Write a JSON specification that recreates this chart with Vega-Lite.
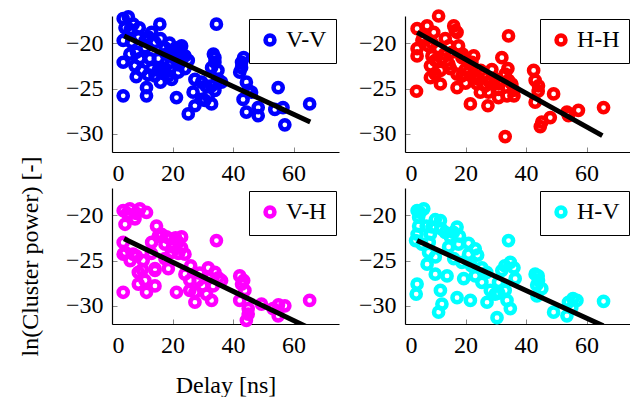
{
"$schema": "https://vega.github.io/schema/vega-lite/v6.json",
"padding": {"left": 18, "top": 2, "right": 0, "bottom": 0},
"background": "white",
"config": {
 "font": "Liberation Serif",
 "view": {"stroke": null},
 "axis": {"domainColor": "black", "domainWidth": 1.2, "tickColor": "#8a8a8a", "tickWidth": 1, "tickSize": -5, "labelFont": "Liberation Serif", "labelFontSize": 24, "labelColor": "black", "titleFont": "Liberation Serif", "titleFontSize": 24, "titleFontWeight": "normal", "titleColor": "black", "grid": false},
 "legend": {"orient": "top-right", "offset": 3, "fillColor": "white", "strokeColor": "black", "padding": 9, "labelFont": "Liberation Serif", "labelFontSize": 24, "labelColor": "black", "symbolStrokeWidth": 4.5, "symbolSize": 80, "symbolType": "circle", "labelOffset": 4}
},
"datasets": {
 "pts": [
  {"g":"V-V","x":3.7,"y":-17.3},{"g":"V-V","x":5.4,"y":-17.1},{"g":"V-V","x":7.0,"y":-17.9},{"g":"V-V","x":4.3,"y":-18.3},{"g":"V-V","x":15.8,"y":-17.9},{"g":"V-V","x":34.5,"y":-17.9},{"g":"V-V","x":3.7,"y":-19.7},{"g":"V-V","x":3.7,"y":-22.1},{"g":"V-V","x":3.7,"y":-25.8},{"g":"V-V","x":11.4,"y":-24.9},{"g":"V-V","x":11.4,"y":-25.8},{"g":"V-V","x":8.7,"y":-19.4},{"g":"V-V","x":13.1,"y":-18.8},{"g":"V-V","x":14.2,"y":-19.9},{"g":"V-V","x":17.5,"y":-20.5},{"g":"V-V","x":20.8,"y":-20.6},{"g":"V-V","x":22.4,"y":-21.0},{"g":"V-V","x":23.0,"y":-21.6},{"g":"V-V","x":19.7,"y":-22.1},{"g":"V-V","x":16.4,"y":-22.7},{"g":"V-V","x":13.1,"y":-22.8},{"g":"V-V","x":9.8,"y":-23.0},{"g":"V-V","x":7.6,"y":-22.5},{"g":"V-V","x":5.9,"y":-21.2},{"g":"V-V","x":8.1,"y":-21.0},{"g":"V-V","x":10.9,"y":-20.5},{"g":"V-V","x":15.3,"y":-21.7},{"g":"V-V","x":18.6,"y":-23.6},{"g":"V-V","x":24.1,"y":-22.8},{"g":"V-V","x":21.9,"y":-23.2},{"g":"V-V","x":19.7,"y":-24.0},{"g":"V-V","x":14.2,"y":-23.6},{"g":"V-V","x":27.4,"y":-24.0},{"g":"V-V","x":34.0,"y":-21.6},{"g":"V-V","x":34.0,"y":-22.1},{"g":"V-V","x":32.9,"y":-22.7},{"g":"V-V","x":35.1,"y":-24.0},{"g":"V-V","x":32.9,"y":-24.7},{"g":"V-V","x":34.0,"y":-25.2},{"g":"V-V","x":31.8,"y":-25.8},{"g":"V-V","x":30.7,"y":-26.3},{"g":"V-V","x":32.9,"y":-26.7},{"g":"V-V","x":26.8,"y":-25.4},{"g":"V-V","x":27.4,"y":-26.9},{"g":"V-V","x":25.2,"y":-27.8},{"g":"V-V","x":21.3,"y":-26.0},{"g":"V-V","x":42.8,"y":-22.1},{"g":"V-V","x":42.8,"y":-22.7},{"g":"V-V","x":42.2,"y":-23.2},{"g":"V-V","x":44.4,"y":-24.3},{"g":"V-V","x":46.1,"y":-25.4},{"g":"V-V","x":43.3,"y":-26.2},{"g":"V-V","x":44.4,"y":-27.6},{"g":"V-V","x":48.3,"y":-27.1},{"g":"V-V","x":48.3,"y":-28.0},{"g":"V-V","x":54.9,"y":-24.9},{"g":"V-V","x":53.8,"y":-27.3},{"g":"V-V","x":56.5,"y":-27.1},{"g":"V-V","x":57.1,"y":-29.0},{"g":"V-V","x":65.3,"y":-26.7},{"g":"V-V","x":6.5,"y":-19.9},{"g":"V-V","x":9.2,"y":-21.7},{"g":"V-V","x":12.5,"y":-21.7},{"g":"V-V","x":18.0,"y":-21.2},{"g":"V-V","x":21.3,"y":-21.9},{"g":"V-V","x":17.5,"y":-23.0},{"g":"V-V","x":25.2,"y":-21.9},{"g":"V-V","x":29.6,"y":-24.3},{"g":"V-V","x":29.6,"y":-26.2},{"g":"V-V","x":36.2,"y":-24.3},{"g":"V-V","x":45.0,"y":-25.2},{"g":"V-V","x":21.9,"y":-20.5},{"g":"V-V","x":15.3,"y":-23.0},{"g":"V-V","x":10.9,"y":-19.7},{"g":"V-V","x":24.1,"y":-21.4},
  {"g":"V-V","x":6,"y":-18.5},{"g":"V-V","x":9,"y":-18.3},{"g":"V-V","x":12,"y":-19.3},{"g":"V-V","x":16,"y":-19.5},{"g":"V-V","x":19,"y":-20},{"g":"V-V","x":20,"y":-21.5},{"g":"V-V","x":23,"y":-20.3},{"g":"V-V","x":22,"y":-22.4},{"g":"V-V","x":12,"y":-23.5},{"g":"V-V","x":8,"y":-23.7},{"g":"V-V","x":16,"y":-24.3},{"g":"V-V","x":33.5,"y":-21.2},{"g":"V-V","x":35,"y":-23},{"g":"V-V","x":43.5,"y":-21.6},{"g":"V-V","x":31,"y":-24.7},
  {"g":"H-H","x":11.1,"y":-17.0},{"g":"H-H","x":4.0,"y":-18.4},{"g":"H-H","x":7.3,"y":-18.1},{"g":"H-H","x":9.5,"y":-18.8},{"g":"H-H","x":16.1,"y":-18.1},{"g":"H-H","x":17.2,"y":-18.8},{"g":"H-H","x":34.2,"y":-19.2},{"g":"H-H","x":4.0,"y":-20.6},{"g":"H-H","x":4.0,"y":-21.4},{"g":"H-H","x":3.8,"y":-25.3},{"g":"H-H","x":7.8,"y":-20.3},{"g":"H-H","x":11.1,"y":-20.6},{"g":"H-H","x":14.5,"y":-20.3},{"g":"H-H","x":17.7,"y":-20.3},{"g":"H-H","x":8.9,"y":-21.4},{"g":"H-H","x":12.2,"y":-21.7},{"g":"H-H","x":8.4,"y":-22.5},{"g":"H-H","x":11.7,"y":-23.0},{"g":"H-H","x":11.7,"y":-24.5},{"g":"H-H","x":17.2,"y":-23.4},{"g":"H-H","x":17.2,"y":-24.9},{"g":"H-H","x":22.7,"y":-21.4},{"g":"H-H","x":22.1,"y":-22.1},{"g":"H-H","x":19.9,"y":-22.9},{"g":"H-H","x":24.3,"y":-24.0},{"g":"H-H","x":23.8,"y":-24.5},{"g":"H-H","x":26.5,"y":-24.7},{"g":"H-H","x":27.6,"y":-25.4},{"g":"H-H","x":21.6,"y":-26.7},{"g":"H-H","x":27.4,"y":-26.9},{"g":"H-H","x":32.0,"y":-21.6},{"g":"H-H","x":28.7,"y":-22.9},{"g":"H-H","x":33.1,"y":-23.4},{"g":"H-H","x":34.2,"y":-24.1},{"g":"H-H","x":30.9,"y":-25.1},{"g":"H-H","x":33.7,"y":-25.8},{"g":"H-H","x":35.9,"y":-25.2},{"g":"H-H","x":33.1,"y":-30.3},{"g":"H-H","x":42.5,"y":-23.0},{"g":"H-H","x":43.0,"y":-24.1},{"g":"H-H","x":44.1,"y":-24.7},{"g":"H-H","x":43.0,"y":-26.5},{"g":"H-H","x":49.1,"y":-25.6},{"g":"H-H","x":48.0,"y":-28.2},{"g":"H-H","x":44.7,"y":-29.2},{"g":"H-H","x":45.2,"y":-28.7},{"g":"H-H","x":53.5,"y":-27.6},{"g":"H-H","x":54.0,"y":-28.0},{"g":"H-H","x":57.3,"y":-27.4},{"g":"H-H","x":65.6,"y":-27.1},{"g":"H-H","x":13.3,"y":-19.5},{"g":"H-H","x":15.5,"y":-21.0},{"g":"H-H","x":5.6,"y":-19.7},{"g":"H-H","x":10.0,"y":-21.9},{"g":"H-H","x":18.8,"y":-21.6},{"g":"H-H","x":23.2,"y":-23.6},{"g":"H-H","x":26.0,"y":-23.4},{"g":"H-H","x":29.8,"y":-23.9},{"g":"H-H","x":35.3,"y":-24.5},{"g":"H-H","x":30.9,"y":-26.0},{"g":"H-H","x":14.5,"y":-22.3},{"g":"H-H","x":24.9,"y":-25.4},{"g":"H-H","x":8.4,"y":-23.8},{"g":"H-H","x":18.8,"y":-23.6},{"g":"H-H","x":16.6,"y":-18.6},
  {"g":"H-H","x":6,"y":-19.3},{"g":"H-H","x":9,"y":-20},{"g":"H-H","x":13,"y":-21.2},{"g":"H-H","x":15,"y":-22.8},{"g":"H-H","x":19,"y":-21.2},{"g":"H-H","x":21,"y":-23.2},{"g":"H-H","x":25,"y":-23},{"g":"H-H","x":28,"y":-24.3},{"g":"H-H","x":31,"y":-24.5},{"g":"H-H","x":34,"y":-22.8},{"g":"H-H","x":36,"y":-25.8},{"g":"H-H","x":44,"y":-25.3},{"g":"H-H","x":10,"y":-23.4},{"g":"H-H","x":20,"y":-24.4},
  {"g":"V-H","x":3.7,"y":-19.5},{"g":"V-H","x":5.9,"y":-19.3},{"g":"V-H","x":9.2,"y":-19.3},{"g":"V-H","x":11.4,"y":-19.7},{"g":"V-H","x":4.3,"y":-21.0},{"g":"V-H","x":7.6,"y":-20.4},{"g":"V-H","x":14.7,"y":-21.2},{"g":"V-H","x":3.7,"y":-23.0},{"g":"V-H","x":3.7,"y":-24.3},{"g":"V-H","x":3.7,"y":-28.5},{"g":"V-H","x":8.7,"y":-26.3},{"g":"V-H","x":8.7,"y":-27.6},{"g":"V-H","x":11.4,"y":-28.5},{"g":"V-H","x":14.2,"y":-27.8},{"g":"V-H","x":14.2,"y":-25.9},{"g":"V-H","x":10.9,"y":-27.2},{"g":"V-H","x":34.5,"y":-22.8},{"g":"V-H","x":13.1,"y":-23.0},{"g":"V-H","x":16.4,"y":-22.1},{"g":"V-H","x":19.1,"y":-22.6},{"g":"V-H","x":21.9,"y":-23.0},{"g":"V-H","x":23.0,"y":-23.6},{"g":"V-H","x":19.7,"y":-24.1},{"g":"V-H","x":17.5,"y":-24.8},{"g":"V-H","x":18.6,"y":-25.9},{"g":"V-H","x":21.3,"y":-28.5},{"g":"V-H","x":24.1,"y":-26.5},{"g":"V-H","x":25.7,"y":-28.3},{"g":"V-H","x":27.4,"y":-29.6},{"g":"V-H","x":28.5,"y":-27.2},{"g":"V-H","x":31.8,"y":-25.8},{"g":"V-H","x":35.1,"y":-26.9},{"g":"V-H","x":33.4,"y":-27.8},{"g":"V-H","x":32.9,"y":-29.4},{"g":"V-H","x":31.2,"y":-28.7},{"g":"V-H","x":42.2,"y":-26.7},{"g":"V-H","x":43.9,"y":-28.3},{"g":"V-H","x":42.2,"y":-29.4},{"g":"V-H","x":45.0,"y":-30.9},{"g":"V-H","x":44.4,"y":-31.6},{"g":"V-H","x":49.4,"y":-29.8},{"g":"V-H","x":53.2,"y":-30.3},{"g":"V-H","x":57.1,"y":-30.0},{"g":"V-H","x":54.9,"y":-31.1},{"g":"V-H","x":65.3,"y":-29.4},{"g":"V-H","x":4.3,"y":-24.1},{"g":"V-H","x":7.0,"y":-24.3},{"g":"V-H","x":10.3,"y":-25.0},{"g":"V-H","x":14.2,"y":-26.1},{"g":"V-H","x":24.1,"y":-24.3},{"g":"V-H","x":25.7,"y":-27.2},{"g":"V-H","x":36.2,"y":-27.2},{"g":"V-H","x":42.8,"y":-27.6},{"g":"V-H","x":23.0,"y":-22.4},{"g":"V-H","x":17.5,"y":-23.2},{"g":"V-H","x":8.1,"y":-24.5},{"g":"V-H","x":15.3,"y":-22.3},{"g":"V-H","x":27.4,"y":-28.5},{"g":"V-H","x":32.3,"y":-26.9},
  {"g":"V-H","x":5,"y":-19.8},{"g":"V-H","x":8,"y":-19.8},{"g":"V-H","x":18,"y":-22.4},{"g":"V-H","x":21,"y":-22.5},{"g":"V-H","x":22,"y":-24.2},{"g":"V-H","x":20,"y":-23.5},{"g":"V-H","x":13,"y":-24.2},{"g":"V-H","x":6,"y":-25},{"g":"V-H","x":26,"y":-25.6},{"g":"V-H","x":29,"y":-26.4},{"g":"V-H","x":34,"y":-26.3},{"g":"V-H","x":43.5,"y":-27.2},{"g":"V-H","x":10,"y":-26},{"g":"V-H","x":30,"y":-27.8},{"g":"V-H","x":55,"y":-29.9},{"g":"V-H","x":45,"y":-30.3},
  {"g":"H-V","x":4.0,"y":-19.5},{"g":"H-V","x":6.2,"y":-19.3},{"g":"H-V","x":4.5,"y":-20.2},{"g":"H-V","x":11.7,"y":-20.6},{"g":"H-V","x":8.9,"y":-21.3},{"g":"H-V","x":4.0,"y":-22.1},{"g":"H-V","x":3.5,"y":-22.8},{"g":"H-V","x":17.2,"y":-21.3},{"g":"H-V","x":15.0,"y":-22.4},{"g":"H-V","x":14.4,"y":-23.5},{"g":"H-V","x":23.2,"y":-23.7},{"g":"H-V","x":21.0,"y":-24.3},{"g":"H-V","x":16.1,"y":-24.8},{"g":"H-V","x":7.3,"y":-25.4},{"g":"H-V","x":10.0,"y":-26.5},{"g":"H-V","x":13.9,"y":-26.7},{"g":"H-V","x":4.0,"y":-27.6},{"g":"H-V","x":3.7,"y":-28.7},{"g":"H-V","x":11.7,"y":-28.3},{"g":"H-V","x":12.2,"y":-29.8},{"g":"H-V","x":11.1,"y":-30.7},{"g":"H-V","x":17.2,"y":-29.1},{"g":"H-V","x":21.6,"y":-29.4},{"g":"H-V","x":19.4,"y":-27.0},{"g":"H-V","x":23.2,"y":-26.7},{"g":"H-V","x":25.4,"y":-27.4},{"g":"H-V","x":28.2,"y":-28.3},{"g":"H-V","x":27.1,"y":-29.6},{"g":"H-V","x":30.4,"y":-31.3},{"g":"H-V","x":34.2,"y":-22.8},{"g":"H-V","x":34.8,"y":-25.2},{"g":"H-V","x":32.0,"y":-26.1},{"g":"H-V","x":36.4,"y":-27.0},{"g":"H-V","x":30.9,"y":-27.4},{"g":"H-V","x":33.1,"y":-28.3},{"g":"H-V","x":33.7,"y":-29.4},{"g":"H-V","x":34.8,"y":-30.3},{"g":"H-V","x":43.0,"y":-26.5},{"g":"H-V","x":44.1,"y":-27.2},{"g":"H-V","x":45.2,"y":-28.1},{"g":"H-V","x":43.6,"y":-28.9},{"g":"H-V","x":49.1,"y":-30.7},{"g":"H-V","x":53.5,"y":-31.1},{"g":"H-V","x":54.0,"y":-29.6},{"g":"H-V","x":56.8,"y":-29.4},{"g":"H-V","x":65.6,"y":-29.5},{"g":"H-V","x":7.8,"y":-24.1},{"g":"H-V","x":5.6,"y":-23.2},{"g":"H-V","x":10.0,"y":-24.6},{"g":"H-V","x":17.7,"y":-23.2},{"g":"H-V","x":18.8,"y":-25.2},{"g":"H-V","x":25.4,"y":-25.8},{"g":"H-V","x":29.8,"y":-28.7},{"g":"H-V","x":55.1,"y":-30.2},{"g":"H-V","x":8.4,"y":-22.1},{"g":"H-V","x":4.5,"y":-21.2},{"g":"H-V","x":13.3,"y":-21.9},
  {"g":"H-V","x":5,"y":-19.7},{"g":"H-V","x":7,"y":-21.2},{"g":"H-V","x":10,"y":-20.5},{"g":"H-V","x":12,"y":-21.5},{"g":"H-V","x":16,"y":-21.9},{"g":"H-V","x":18,"y":-22.3},{"g":"H-V","x":21,"y":-23.1},{"g":"H-V","x":24,"y":-24.4},{"g":"H-V","x":22,"y":-25.6},{"g":"H-V","x":27,"y":-26.3},{"g":"H-V","x":33,"y":-25.6},{"g":"H-V","x":36,"y":-25.8},{"g":"H-V","x":43.5,"y":-27.7},{"g":"H-V","x":31,"y":-28.6},{"g":"H-V","x":55.5,"y":-29.2},{"g":"H-V","x":8,"y":-23},{"g":"H-V","x":44,"y":-26.7}
 ],
 "fit": [
  {"g":"V-V","x":4,"y":-19.2},{"g":"V-V","x":65.5,"y":-28.7},
  {"g":"H-H","x":4,"y":-18.8},{"g":"H-H","x":65.2,"y":-30.2},
  {"g":"V-H","x":4,"y":-22.6},{"g":"V-H","x":65.5,"y":-32.5},
  {"g":"H-V","x":4,"y":-22.8},{"g":"H-V","x":65.5,"y":-32.2}
 ]
},
"columns": 2,
"bounds": "flush",
"spacing": {"row": 36, "column": 66},
"resolve": {"scale": {"color": "independent"}, "legend": {"color": "independent"}},
"concat": [
  {"width": 227, "height": 136, "layer": [
   {"data": {"name": "pts"}, "transform": [{"filter": "datum.g === 'V-V'"}], "mark": {"type": "point", "shape": "circle", "filled": false, "strokeWidth": 4.5, "size": 85, "opacity": 1},
    "encoding": {"x": {"field": "x", "type": "quantitative", "scale": {"domain": [0, 75], "nice": false, "zero": false}, "axis": {"title": null, "values": [0, 20, 40, 60], "labelPadding": 14}},
     "y": {"field": "y", "type": "quantitative", "scale": {"domain": [-32, -17], "nice": false, "zero": false}, "axis": {"title": null, "values": [-30, -25, -20], "labelPadding": 14}},
     "color": {"field": "g", "type": "nominal", "scale": {"domain": ["V-V"], "range": ["#0000ff"]}, "legend": {"title": null}}}},
   {"data": {"name": "fit"}, "transform": [{"filter": "datum.g === 'V-V'"}], "mark": {"type": "line", "color": "black", "strokeWidth": 5, "clip": true},
    "encoding": {"x": {"field": "x", "type": "quantitative"}, "y": {"field": "y", "type": "quantitative"}}}
  ]},
  {"width": 227, "height": 136, "layer": [
   {"data": {"name": "pts"}, "transform": [{"filter": "datum.g === 'H-H'"}], "mark": {"type": "point", "shape": "circle", "filled": false, "strokeWidth": 4.5, "size": 85, "opacity": 1},
    "encoding": {"x": {"field": "x", "type": "quantitative", "scale": {"domain": [0, 75], "nice": false, "zero": false}, "axis": {"title": null, "values": [0, 20, 40, 60], "labelPadding": 14}},
     "y": {"field": "y", "type": "quantitative", "scale": {"domain": [-32, -17], "nice": false, "zero": false}, "axis": {"title": null, "values": [-30, -25, -20], "labelPadding": 14}},
     "color": {"field": "g", "type": "nominal", "scale": {"domain": ["H-H"], "range": ["#ff0000"]}, "legend": {"title": null}}}},
   {"data": {"name": "fit"}, "transform": [{"filter": "datum.g === 'H-H'"}], "mark": {"type": "line", "color": "black", "strokeWidth": 5, "clip": true},
    "encoding": {"x": {"field": "x", "type": "quantitative"}, "y": {"field": "y", "type": "quantitative"}}}
  ]},
  {"width": 227, "height": 136, "layer": [
   {"data": {"name": "pts"}, "transform": [{"filter": "datum.g === 'V-H'"}], "mark": {"type": "point", "shape": "circle", "filled": false, "strokeWidth": 4.5, "size": 85, "opacity": 1},
    "encoding": {"x": {"field": "x", "type": "quantitative", "scale": {"domain": [0, 75], "nice": false, "zero": false}, "axis": {"title": "Delay [ns]", "values": [0, 20, 40, 60], "labelPadding": 14, "titlePadding": 16}},
     "y": {"field": "y", "type": "quantitative", "scale": {"domain": [-32, -17], "nice": false, "zero": false}, "axis": {"title": "ln(Cluster power) [-]", "values": [-30, -25, -20], "labelPadding": 14, "titlePadding": 23}},
     "color": {"field": "g", "type": "nominal", "scale": {"domain": ["V-H"], "range": ["#ff00ff"]}, "legend": {"title": null}}}},
   {"data": {"name": "fit"}, "transform": [{"filter": "datum.g === 'V-H'"}], "mark": {"type": "line", "color": "black", "strokeWidth": 5, "clip": true},
    "encoding": {"x": {"field": "x", "type": "quantitative"}, "y": {"field": "y", "type": "quantitative"}}}
  ]},
  {"width": 227, "height": 136, "layer": [
   {"data": {"name": "pts"}, "transform": [{"filter": "datum.g === 'H-V'"}], "mark": {"type": "point", "shape": "circle", "filled": false, "strokeWidth": 4.5, "size": 85, "opacity": 1},
    "encoding": {"x": {"field": "x", "type": "quantitative", "scale": {"domain": [0, 75], "nice": false, "zero": false}, "axis": {"title": null, "values": [0, 20, 40, 60], "labelPadding": 14}},
     "y": {"field": "y", "type": "quantitative", "scale": {"domain": [-32, -17], "nice": false, "zero": false}, "axis": {"title": null, "values": [-30, -25, -20], "labelPadding": 14}},
     "color": {"field": "g", "type": "nominal", "scale": {"domain": ["H-V"], "range": ["#00ffff"]}, "legend": {"title": null}}}},
   {"data": {"name": "fit"}, "transform": [{"filter": "datum.g === 'H-V'"}], "mark": {"type": "line", "color": "black", "strokeWidth": 5, "clip": true},
    "encoding": {"x": {"field": "x", "type": "quantitative"}, "y": {"field": "y", "type": "quantitative"}}}
  ]}
]
}
